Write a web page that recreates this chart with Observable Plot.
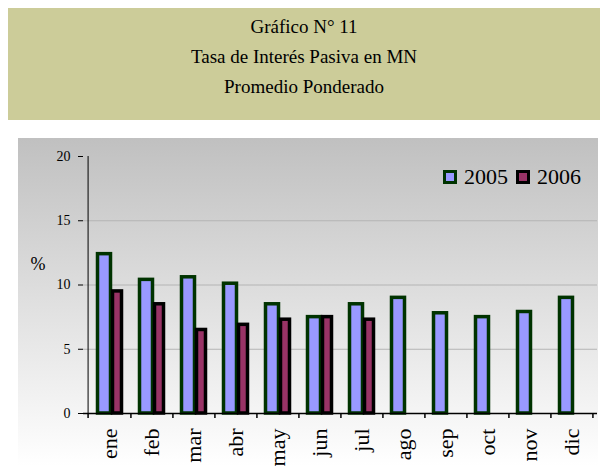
<!DOCTYPE html>
<html>
<head>
<meta charset="utf-8">
<script src="https://cdn.jsdelivr.net/npm/d3@7"></script>
<script src="https://cdn.jsdelivr.net/npm/@observablehq/plot@0.6"></script>
<style>
  body { margin: 0; background: #fff; font-family: "Liberation Serif", "Times New Roman", serif; }
  #title { position: absolute; left: 8px; top: 8px; width: 592px; height: 112px; background: #cccc99; text-align: center; font-size: 19px; color: #000; }
  #title div { line-height: 30px; }
  #chart { position: absolute; left: 18px; top: 138px; width: 580px; height: 328px; background: linear-gradient(#c0c0c0, #ffffff); overflow: hidden; }
  #chart svg, #chart svg text { font-family: "Liberation Serif", "Times New Roman", serif !important; }
  #legend { position: absolute; left: 443px; top: 164px; font-size: 22px; display: flex; align-items: center; }
  .sw { display: inline-block; width: 8px; height: 8px; border: 3.5px solid; margin-right: 7px; }
</style>
</head>
<body>
<div id="title"><div style="margin-top:4px">Gráfico N° 11</div><div>Tasa de Interés Pasiva en MN</div><div>Promedio Ponderado</div></div>
<div id="chart"></div>
<div id="legend"><span class="sw" style="background:#9999ff;border-color:#003300"></span><span style="margin-right:8px">2005</span><span class="sw" style="background:#993366;border-color:#000"></span><span>2006</span></div>
<script>
const months = ["ene","feb","mar","abr","may","jun","jul","ago","sep","oct","nov","dic"];
const values2005 = [12.4, 10.4, 10.6, 10.1, 8.5, 7.5, 8.5, 9.0, 7.8, 7.5, 7.9, 9.0];
const values2006 = [9.5, 8.5, 6.5, 6.9, 7.3, 7.5, 7.3];
const yTicks = [0, 5, 10, 15, 20];

const d2005 = months.map((m, i) => ({month: m, value: values2005[i]}));
const d2006 = values2006.map((v, i) => ({month: months[i], value: v}));

const W = 580, H = 328, mL = 65, mR = 1, mT = 18, mB = 53;
const step = (W - mL - mR) / months.length;

const chart = Plot.plot({
  width: W, height: H,
  marginLeft: mL, marginRight: mR, marginTop: mT, marginBottom: mB,
  style: {background: "transparent", fontFamily: "Liberation Serif, serif", color: "#000", overflow: "visible"},
  x: {domain: months, padding: 0, axis: null},
  y: {domain: [0, 20], axis: null},
  marks: [
    Plot.gridY([5, 10, 15], {stroke: "#b4b4b4", strokeOpacity: 1}),
    Plot.barY(d2005, {x: "month", y: "value", fill: "#9999ff", stroke: "#003300", strokeWidth: 3.5, insetLeft: 9.5, insetRight: 19.5}),
    Plot.barY(d2006, {x: "month", y: "value", fill: "#993366", stroke: "#000", strokeWidth: 3.5, insetLeft: 24.5, insetRight: 8.5}),
    Plot.ruleY([0], {stroke: "#000", strokeWidth: 1.5}),
    Plot.ruleX([months[0]], {dx: -step / 2, y1: 0, y2: 20, stroke: "#000", strokeWidth: 1}),
    Plot.axisY({ticks: yTicks, tickSize: 5, tickPadding: 8, fontSize: 14, label: null, anchor: "left"}),
    Plot.axisX({tickSize: 5, tickFormat: () => "", dx: step / 2, label: null, strokeWidth: 1.5}),
    Plot.axisX([months[0]], {tickSize: 5, tickFormat: () => "", dx: -step / 2, label: null, strokeWidth: 1.5}),
    Plot.axisX({tickSize: 0, tickPadding: 15, tickRotate: -90, fontSize: 22, label: null}),
    Plot.text(["%"], {frameAnchor: "left", dx: -53, dy: -21, fontSize: 18, text: d => d})
  ]
});
document.getElementById("chart").appendChild(chart);
</script>
</body>
</html>
